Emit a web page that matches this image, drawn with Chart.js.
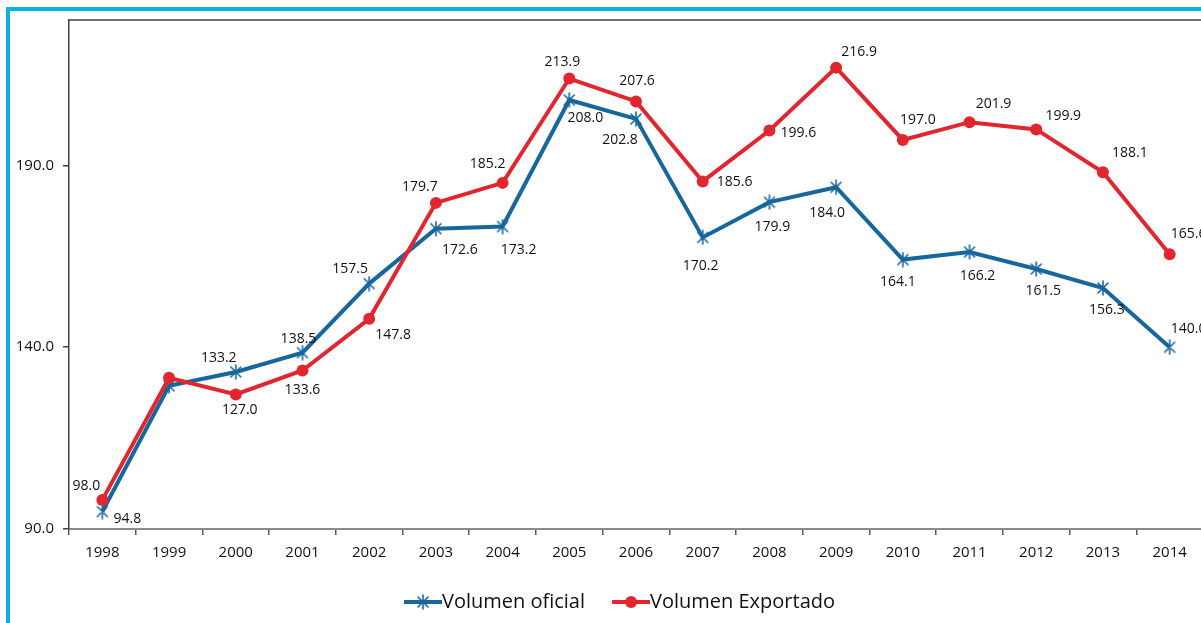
<!DOCTYPE html>
<html>
<head>
<meta charset="utf-8">
<script src="https://cdn.jsdelivr.net/npm/chart.js@4.4.1/dist/chart.umd.min.js"></script>
<style>
  html, body { margin: 0; padding: 0; background: #fff; overflow: hidden; }
  #frame { position: absolute; left: 6px; top: 7px; width: 1400px; height: 800px; border: 4px solid #0ab0ec; }
  #chart { position: absolute; left: 0; top: 0; }
</style>
</head>
<body>
<div id="frame"></div>
<canvas id="chart" width="1240" height="623"></canvas>
<script>
// years on the x axis
var years = ['1998', '1999', '2000', '2001', '2002', '2003', '2004', '2005', '2006',
  '2007', '2008', '2009', '2010', '2011', '2012', '2013', '2014'];

// series values
var volumenOficial = [94.8, 129.4, 133.2, 138.5, 157.5, 172.6, 173.2, 208.0, 202.8,
  170.2, 179.9, 184.0, 164.1, 166.2, 161.5, 156.3, 140.0];
var volumenExportado = [98.0, 131.6, 127.0, 133.6, 147.8, 179.7, 185.2, 213.9, 207.6,
  185.6, 199.6, 216.9, 197.0, 201.9, 199.9, 188.1, 165.6];

// which points get a value label (1999 has none)
var showLabel = [true, false, true, true, true, true, true, true, true,
  true, true, true, true, true, true, true, true];

// value axis
var yMin = 90, yMax = 230;
var yTicks = [90, 140, 190];

// label offsets from each point, in px [dx, dy]
var oficialLabelPos = [[25, 7], null, [-17, -14], [-4, -14], [-19, -15], [24, 21], [16, 24],
  [16, 18], [-16, 21], [-2, 29], [3, 25], [-9, 26], [-5, 22], [8, 24], [7, 22], [4, 22], [19, -18]];
var exportadoLabelPos = [[-16, -14], null, [4, 16], [0, 20], [24, 16], [-16, -16], [-15, -19],
  [-7, -17], [1, -20], [32, 1], [29, 2], [23, -16], [15, -20], [24, -18], [27, -13], [27, -19], [19, -20]];

var BLUE = '#17679c';
var RED = '#e1262f';
var FONT = "'Open Sans', sans-serif";

// legend box width; the swatch image is 20px wider and keeps its line at the right end,
// so the line runs straight into the label text
var SWATCH_BOX = 50;
var SWATCH_LINE = 38;

// six-armed asterisk marker
function asteriskMarker(color) {
  var c = document.createElement('canvas');
  c.width = 14; c.height = 16;
  var g = c.getContext('2d');
  g.strokeStyle = color; g.lineWidth = 1.6; g.lineCap = 'round';
  g.beginPath();
  g.moveTo(2, 3); g.lineTo(12, 13);
  g.moveTo(12, 3); g.lineTo(2, 13);
  g.moveTo(7, 1); g.lineTo(7, 15);
  g.stroke();
  return c;
}

// legend swatch: short thick line with the series marker in the middle
function legendSwatch(color, kind) {
  var c = document.createElement('canvas');
  c.width = SWATCH_BOX + 20; c.height = 16;
  var x0 = c.width - SWATCH_LINE, mid = x0 + SWATCH_LINE / 2;
  var g = c.getContext('2d');
  g.strokeStyle = color; g.fillStyle = color;
  g.lineWidth = 4;
  g.beginPath(); g.moveTo(x0, 8); g.lineTo(c.width, 8); g.stroke();
  if (kind === 'circle') {
    g.beginPath(); g.arc(mid, 8, 6, 0, Math.PI * 2); g.fill();
  } else {
    g.drawImage(asteriskMarker(color), mid - 7, 0);
  }
  return c;
}

var blueMarker = asteriskMarker(BLUE);

// value labels next to each point
var pointLabels = {
  id: 'pointLabels',
  afterDatasetsDraw: function (chart) {
    var ctx = chart.ctx;
    ctx.save();
    ctx.font = '14px ' + FONT;
    ctx.fillStyle = '#111';
    ctx.textAlign = 'center';
    ctx.textBaseline = 'middle';
    chart.data.datasets.forEach(function (ds, di) {
      var meta = chart.getDatasetMeta(di);
      meta.data.forEach(function (pt, i) {
        var off = ds.labelPos[i];
        if (!showLabel[i] || !off) return;
        ctx.fillText(ds.data[i].toFixed(1), pt.x + off[0], pt.y + off[1]);
      });
    });
    ctx.restore();
  }
};

// thin top edge closing the plot box
var plotTop = {
  id: 'plotTop',
  beforeDatasetsDraw: function (chart) {
    var a = chart.chartArea, ctx = chart.ctx;
    ctx.save();
    ctx.strokeStyle = '#404040';
    ctx.lineWidth = 1.5;
    ctx.beginPath();
    ctx.moveTo(a.left, a.top);
    ctx.lineTo(a.right + 40, a.top);
    ctx.stroke();
    ctx.restore();
  }
};

new Chart(document.getElementById('chart').getContext('2d'), {
  type: 'line',
  data: {
    labels: years,
    datasets: [
      {
        label: 'Volumen oficial',
        data: volumenOficial,
        labelPos: oficialLabelPos,
        borderColor: BLUE,
        backgroundColor: BLUE,
        borderWidth: 4,
        pointStyle: blueMarker,
        pointRadius: 7,
        tension: 0,
        order: 1
      },
      {
        label: 'Volumen Exportado',
        data: volumenExportado,
        labelPos: exportadoLabelPos,
        borderColor: RED,
        backgroundColor: RED,
        borderWidth: 4,
        pointStyle: 'circle',
        pointRadius: 6,
        pointBorderWidth: 0,
        tension: 0,
        order: 0
      }
    ]
  },
  options: {
    responsive: false,
    animation: false,
    layout: { padding: { top: 20, left: 14, right: 37, bottom: 1 } },
    plugins: {
      tooltip: { enabled: false },
      legend: {
        position: 'bottom',
        labels: {
          usePointStyle: true,
          pointStyleWidth: SWATCH_BOX,
          padding: 5,
          color: '#111',
          font: { family: FONT, size: 20 },
          generateLabels: function (chart) {
            return chart.data.datasets.map(function (ds, i) {
              return {
                text: ds.label,
                pointStyle: legendSwatch(ds.borderColor, i === 0 ? 'asterisk' : 'circle'),
                fillStyle: ds.borderColor,
                strokeStyle: ds.borderColor,
                lineWidth: 0,
                fontColor: '#111',
                datasetIndex: i
              };
            });
          }
        }
      }
    },
    scales: {
      x: {
        offset: true,
        grid: { display: true, drawOnChartArea: false, drawTicks: true, tickLength: 6, color: '#595959', lineWidth: 1.5, offset: true },
        border: { display: true, color: '#8a8a8a', width: 2 },
        ticks: { color: '#111', font: { family: FONT, size: 15 }, padding: 9, maxRotation: 0 },
        afterFit: function (s) { s.height = 58; }
      },
      y: {
        min: yMin,
        max: yMax,
        afterBuildTicks: function (s) { s.ticks = yTicks.map(function (v) { return { value: v }; }); },
        grid: { display: true, drawOnChartArea: false, drawTicks: true, tickLength: 6, color: '#404040', lineWidth: 1.5 },
        border: { display: true, color: '#404040', width: 1.5 },
        ticks: {
          color: '#111',
          font: { family: FONT, size: 15 },
          padding: 9,
          callback: function (v) { return Number(v).toFixed(1); }
        },
        afterFit: function (s) { s.width = 55; }
      }
    }
  },
  plugins: [pointLabels, plotTop]
});
</script>
</body>
</html>
